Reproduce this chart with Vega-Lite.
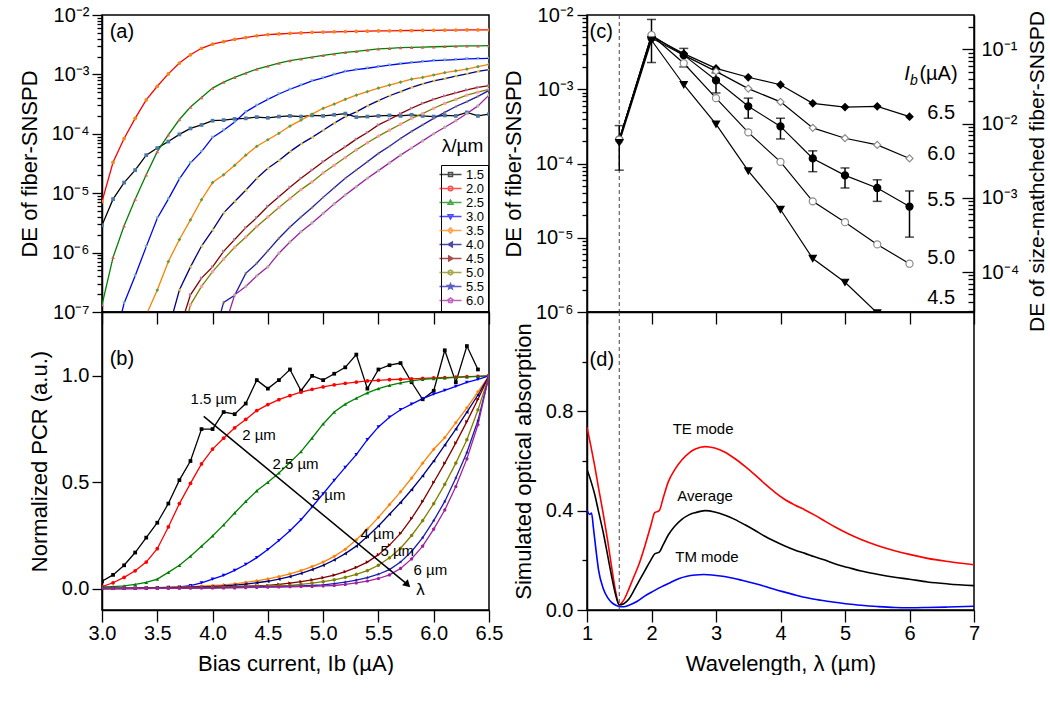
{
"$schema":"https://vega.github.io/schema/vega-lite/v6.json",
"background":"white",
"padding":{"left":17,"top":4,"right":0,"bottom":0},
"config":{
 "font":"Liberation Sans",
 "view":{"stroke":"black","strokeWidth":1.5},
 "axis":{"domainColor":"black","domainWidth":1.5,"tickColor":"black","tickWidth":1.3,"labelColor":"black","labelFont":"Liberation Sans","labelFontSize":20,"titleFont":"Liberation Sans","titleFontSize":22,"titleFontWeight":"normal","titleColor":"black","grid":false,"tickSize":10,"labelOverlap":false,"labelFlush":false},
 "text":{"font":"Liberation Sans","color":"black"}
},
"datasets":{
"iv":[
{"s":"1.5","I":3.0,"de":2.88e-6,"p":0.035},{"s":"1.5","I":3.1,"de":7.94e-6,"p":0.065},{"s":"1.5","I":3.2,"de":1.51e-5,"p":0.11},{"s":"1.5","I":3.3,"de":2.45e-5,"p":0.17},{"s":"1.5","I":3.4,"de":4.37e-5,"p":0.24},{"s":"1.5","I":3.5,"de":5.75e-5,"p":0.31},{"s":"1.5","I":3.6,"de":7.41e-5,"p":0.40},{"s":"1.5","I":3.7,"de":9.77e-5,"p":0.51},{"s":"1.5","I":3.8,"de":1.23e-4,"p":0.60},{"s":"1.5","I":3.9,"de":1.41e-4,"p":0.75},{"s":"1.5","I":4.0,"de":1.66e-4,"p":0.75},{"s":"1.5","I":4.1,"de":1.70e-4,"p":0.83},{"s":"1.5","I":4.2,"de":1.78e-4,"p":0.82},{"s":"1.5","I":4.3,"de":1.82e-4,"p":0.87},{"s":"1.5","I":4.4,"de":1.91e-4,"p":0.98},{"s":"1.5","I":4.5,"de":1.86e-4,"p":0.94},{"s":"1.5","I":4.6,"de":1.95e-4,"p":0.98},{"s":"1.5","I":4.7,"de":2.0e-4,"p":1.03},{"s":"1.5","I":4.8,"de":1.95e-4,"p":0.93},{"s":"1.5","I":4.9,"de":2.04e-4,"p":1.0},{"s":"1.5","I":5.0,"de":2.0e-4,"p":0.98},{"s":"1.5","I":5.1,"de":2.09e-4,"p":1.01},{"s":"1.5","I":5.2,"de":2.19e-4,"p":1.04},{"s":"1.5","I":5.3,"de":1.91e-4,"p":1.10},{"s":"1.5","I":5.4,"de":1.95e-4,"p":0.94},{"s":"1.5","I":5.5,"de":2.0e-4,"p":1.03},{"s":"1.5","I":5.6,"de":2.04e-4,"p":1.05},{"s":"1.5","I":5.7,"de":2.0e-4,"p":1.06},{"s":"1.5","I":5.8,"de":2.09e-4,"p":0.97},{"s":"1.5","I":5.9,"de":2.0e-4,"p":0.89},{"s":"1.5","I":6.0,"de":1.95e-4,"p":0.93},{"s":"1.5","I":6.1,"de":2.04e-4,"p":1.12},{"s":"1.5","I":6.2,"de":2.0e-4,"p":0.97},{"s":"1.5","I":6.3,"de":2.29e-4,"p":1.14},{"s":"1.5","I":6.4,"de":2.0e-4,"p":1.03},{"s":"1.5","I":6.5,"de":2.14e-4},
{"s":"2.0","I":3.0,"de":7.24e-6,"p":0.01},{"s":"2.0","I":3.1,"de":3.31e-5,"p":0.028},{"s":"2.0","I":3.2,"de":8.32e-5,"p":0.053},{"s":"2.0","I":3.3,"de":1.82e-4,"p":0.084},{"s":"2.0","I":3.4,"de":3.72e-4,"p":0.125},{"s":"2.0","I":3.5,"de":6.31e-4,"p":0.188},{"s":"2.0","I":3.6,"de":1.02e-3,"p":0.29},{"s":"2.0","I":3.7,"de":1.55e-3,"p":0.40},{"s":"2.0","I":3.8,"de":2.14e-3,"p":0.495},{"s":"2.0","I":3.9,"de":2.75e-3,"p":0.586},{"s":"2.0","I":4.0,"de":3.24e-3,"p":0.656},{"s":"2.0","I":4.1,"de":3.55e-3,"p":0.707},{"s":"2.0","I":4.2,"de":3.89e-3,"p":0.756},{"s":"2.0","I":4.3,"de":4.17e-3,"p":0.795},{"s":"2.0","I":4.4,"de":4.47e-3,"p":0.837},{"s":"2.0","I":4.5,"de":4.68e-3,"p":0.865},{"s":"2.0","I":4.6,"de":4.79e-3,"p":0.888},{"s":"2.0","I":4.7,"de":4.9e-3,"p":0.907},{"s":"2.0","I":4.8,"de":5.0e-3,"p":0.923},{"s":"2.0","I":4.9,"de":5.1e-3,"p":0.937},{"s":"2.0","I":5.0,"de":5.15e-3,"p":0.948},{"s":"2.0","I":5.1,"de":5.2e-3,"p":0.958},{"s":"2.0","I":5.2,"de":5.25e-3,"p":0.965},{"s":"2.0","I":5.3,"de":5.3e-3,"p":0.971},{"s":"2.0","I":5.4,"de":5.35e-3,"p":0.976},{"s":"2.0","I":5.5,"de":5.4e-3,"p":0.979},{"s":"2.0","I":5.6,"de":5.42e-3,"p":0.982},{"s":"2.0","I":5.7,"de":5.45e-3,"p":0.984},{"s":"2.0","I":5.8,"de":5.48e-3,"p":0.986},{"s":"2.0","I":5.9,"de":5.5e-3,"p":0.988},{"s":"2.0","I":6.0,"de":5.52e-3,"p":0.99},{"s":"2.0","I":6.1,"de":5.55e-3,"p":0.992},{"s":"2.0","I":6.2,"de":5.57e-3,"p":0.994},{"s":"2.0","I":6.3,"de":5.6e-3,"p":0.996},{"s":"2.0","I":6.4,"de":5.6e-3,"p":0.998},{"s":"2.0","I":6.5,"de":5.62e-3,"p":1.0},
{"s":"2.5","I":3.0,"de":1.32e-7,"p":0.008},{"s":"2.5","I":3.1,"de":8.32e-7,"p":0.01},{"s":"2.5","I":3.2,"de":2.82e-6,"p":0.013},{"s":"2.5","I":3.3,"de":7.94e-6,"p":0.02},{"s":"2.5","I":3.4,"de":2.04e-5,"p":0.03},{"s":"2.5","I":3.5,"de":5.01e-5,"p":0.045},{"s":"2.5","I":3.6,"de":9.55e-5,"p":0.077},{"s":"2.5","I":3.7,"de":1.74e-4,"p":0.11},{"s":"2.5","I":3.8,"de":2.82e-4,"p":0.153},{"s":"2.5","I":3.9,"de":4.07e-4,"p":0.2},{"s":"2.5","I":4.0,"de":5.89e-4,"p":0.248},{"s":"2.5","I":4.1,"de":7.41e-4,"p":0.3},{"s":"2.5","I":4.2,"de":8.91e-4,"p":0.356},{"s":"2.5","I":4.3,"de":1.05e-3,"p":0.41},{"s":"2.5","I":4.4,"de":1.23e-3,"p":0.46},{"s":"2.5","I":4.5,"de":1.38e-3,"p":0.5},{"s":"2.5","I":4.6,"de":1.55e-3,"p":0.544},{"s":"2.5","I":4.7,"de":1.70e-3,"p":0.593},{"s":"2.5","I":4.8,"de":1.82e-3,"p":0.644},{"s":"2.5","I":4.9,"de":1.95e-3,"p":0.708},{"s":"2.5","I":5.0,"de":2.09e-3,"p":0.774},{"s":"2.5","I":5.1,"de":2.21e-3,"p":0.83},{"s":"2.5","I":5.2,"de":2.34e-3,"p":0.867},{"s":"2.5","I":5.3,"de":2.45e-3,"p":0.895},{"s":"2.5","I":5.4,"de":2.57e-3,"p":0.92},{"s":"2.5","I":5.5,"de":2.69e-3,"p":0.94},{"s":"2.5","I":5.6,"de":2.75e-3,"p":0.955},{"s":"2.5","I":5.7,"de":2.82e-3,"p":0.967},{"s":"2.5","I":5.8,"de":2.85e-3,"p":0.976},{"s":"2.5","I":5.9,"de":2.88e-3,"p":0.983},{"s":"2.5","I":6.0,"de":2.92e-3,"p":0.987},{"s":"2.5","I":6.1,"de":2.95e-3,"p":0.99},{"s":"2.5","I":6.2,"de":2.99e-3,"p":0.993},{"s":"2.5","I":6.3,"de":3.02e-3,"p":0.995},{"s":"2.5","I":6.4,"de":3.02e-3,"p":0.998},{"s":"2.5","I":6.5,"de":3.05e-3,"p":1.0},
{"s":"3.0","I":3.0,"p":0.002},{"s":"3.0","I":3.1,"de":2.5e-8,"p":0.002},{"s":"3.0","I":3.2,"de":1.41e-7,"p":0.003},{"s":"3.0","I":3.3,"de":4.07e-7,"p":0.003},{"s":"3.0","I":3.4,"de":1.26e-6,"p":0.004},{"s":"3.0","I":3.5,"de":3.8e-6,"p":0.005},{"s":"3.0","I":3.6,"de":7.94e-6,"p":0.006},{"s":"3.0","I":3.7,"de":1.74e-5,"p":0.008},{"s":"3.0","I":3.8,"de":3.24e-5,"p":0.014},{"s":"3.0","I":3.9,"de":5.01e-5,"p":0.028},{"s":"3.0","I":4.0,"de":8.71e-5,"p":0.045},{"s":"3.0","I":4.1,"de":1.15e-4,"p":0.063},{"s":"3.0","I":4.2,"de":1.58e-4,"p":0.086},{"s":"3.0","I":4.3,"de":2.34e-4,"p":0.114},{"s":"3.0","I":4.4,"de":3.02e-4,"p":0.146},{"s":"3.0","I":4.5,"de":3.8e-4,"p":0.184},{"s":"3.0","I":4.6,"de":4.68e-4,"p":0.226},{"s":"3.0","I":4.7,"de":5.62e-4,"p":0.272},{"s":"3.0","I":4.8,"de":6.61e-4,"p":0.324},{"s":"3.0","I":4.9,"de":7.76e-4,"p":0.384},{"s":"3.0","I":5.0,"de":8.71e-4,"p":0.446},{"s":"3.0","I":5.1,"de":1.0e-3,"p":0.509},{"s":"3.0","I":5.2,"de":1.12e-3,"p":0.57},{"s":"3.0","I":5.3,"de":1.2e-3,"p":0.63},{"s":"3.0","I":5.4,"de":1.27e-3,"p":0.7},{"s":"3.0","I":5.5,"de":1.35e-3,"p":0.76},{"s":"3.0","I":5.6,"de":1.43e-3,"p":0.806},{"s":"3.0","I":5.7,"de":1.51e-3,"p":0.841},{"s":"3.0","I":5.8,"de":1.58e-3,"p":0.867},{"s":"3.0","I":5.9,"de":1.64e-3,"p":0.893},{"s":"3.0","I":6.0,"de":1.70e-3,"p":0.914},{"s":"3.0","I":6.1,"de":1.74e-3,"p":0.932},{"s":"3.0","I":6.2,"de":1.78e-3,"p":0.951},{"s":"3.0","I":6.3,"de":1.82e-3,"p":0.969},{"s":"3.0","I":6.4,"de":1.84e-3,"p":0.983},{"s":"3.0","I":6.5,"de":1.86e-3,"p":1.0},
{"s":"3.5","I":3.0,"p":0.002},{"s":"3.5","I":3.1,"p":0.002},{"s":"3.5","I":3.2,"p":0.003},{"s":"3.5","I":3.3,"p":0.003},{"s":"3.5","I":3.4,"de":8.9e-8,"p":0.004},{"s":"3.5","I":3.5,"de":2.34e-7,"p":0.005},{"s":"3.5","I":3.6,"de":7.08e-7,"p":0.006},{"s":"3.5","I":3.7,"de":1.66e-6,"p":0.008},{"s":"3.5","I":3.8,"de":3.55e-6,"p":0.01},{"s":"3.5","I":3.9,"de":7.76e-6,"p":0.012},{"s":"3.5","I":4.0,"de":1.51e-5,"p":0.015},{"s":"3.5","I":4.1,"de":2.04e-5,"p":0.018},{"s":"3.5","I":4.2,"de":2.95e-5,"p":0.023},{"s":"3.5","I":4.3,"de":4.37e-5,"p":0.03},{"s":"3.5","I":4.4,"de":6.17e-5,"p":0.037},{"s":"3.5","I":4.5,"de":7.94e-5,"p":0.046},{"s":"3.5","I":4.6,"de":1.02e-4,"p":0.057},{"s":"3.5","I":4.7,"de":1.35e-4,"p":0.07},{"s":"3.5","I":4.8,"de":1.70e-4,"p":0.085},{"s":"3.5","I":4.9,"de":2.14e-4,"p":0.104},{"s":"3.5","I":5.0,"de":2.69e-4,"p":0.125},{"s":"3.5","I":5.1,"de":3.16e-4,"p":0.152},{"s":"3.5","I":5.2,"de":3.8e-4,"p":0.185},{"s":"3.5","I":5.3,"de":4.47e-4,"p":0.23},{"s":"3.5","I":5.4,"de":5.13e-4,"p":0.28},{"s":"3.5","I":5.5,"de":5.89e-4,"p":0.335},{"s":"3.5","I":5.6,"de":6.61e-4,"p":0.395},{"s":"3.5","I":5.7,"de":7.41e-4,"p":0.455},{"s":"3.5","I":5.8,"de":8.32e-4,"p":0.52},{"s":"3.5","I":5.9,"de":8.91e-4,"p":0.59},{"s":"3.5","I":6.0,"de":9.77e-4,"p":0.655},{"s":"3.5","I":6.1,"de":1.07e-3,"p":0.71},{"s":"3.5","I":6.2,"de":1.15e-3,"p":0.78},{"s":"3.5","I":6.3,"de":1.23e-3,"p":0.85},{"s":"3.5","I":6.4,"de":1.35e-3,"p":0.925},{"s":"3.5","I":6.5,"de":1.48e-3,"p":1.0},
{"s":"4.0","I":3.0,"p":0.001},{"s":"4.0","I":3.1,"p":0.002},{"s":"4.0","I":3.2,"p":0.002},{"s":"4.0","I":3.3,"p":0.003},{"s":"4.0","I":3.4,"p":0.003},{"s":"4.0","I":3.5,"p":0.004},{"s":"4.0","I":3.6,"de":5.0e-8,"p":0.005},{"s":"4.0","I":3.7,"de":2.34e-7,"p":0.006},{"s":"4.0","I":3.8,"de":5.75e-7,"p":0.007},{"s":"4.0","I":3.9,"de":1.29e-6,"p":0.008},{"s":"4.0","I":4.0,"de":2.4e-6,"p":0.01},{"s":"4.0","I":4.1,"de":4.68e-6,"p":0.013},{"s":"4.0","I":4.2,"de":7.24e-6,"p":0.017},{"s":"4.0","I":4.3,"de":1.12e-5,"p":0.022},{"s":"4.0","I":4.4,"de":1.78e-5,"p":0.028},{"s":"4.0","I":4.5,"de":2.63e-5,"p":0.035},{"s":"4.0","I":4.6,"de":3.55e-5,"p":0.045},{"s":"4.0","I":4.7,"de":5.01e-5,"p":0.057},{"s":"4.0","I":4.8,"de":6.76e-5,"p":0.072},{"s":"4.0","I":4.9,"de":8.71e-5,"p":0.09},{"s":"4.0","I":5.0,"de":1.15e-4,"p":0.11},{"s":"4.0","I":5.1,"de":1.51e-4,"p":0.135},{"s":"4.0","I":5.2,"de":1.95e-4,"p":0.165},{"s":"4.0","I":5.3,"de":2.34e-4,"p":0.2},{"s":"4.0","I":5.4,"de":2.95e-4,"p":0.245},{"s":"4.0","I":5.5,"de":3.63e-4,"p":0.295},{"s":"4.0","I":5.6,"de":4.37e-4,"p":0.35},{"s":"4.0","I":5.7,"de":5.13e-4,"p":0.405},{"s":"4.0","I":5.8,"de":6.03e-4,"p":0.465},{"s":"4.0","I":5.9,"de":6.92e-4,"p":0.53},{"s":"4.0","I":6.0,"de":7.76e-4,"p":0.6},{"s":"4.0","I":6.1,"de":8.51e-4,"p":0.675},{"s":"4.0","I":6.2,"de":9.33e-4,"p":0.75},{"s":"4.0","I":6.3,"de":1.02e-3,"p":0.83},{"s":"4.0","I":6.4,"de":1.12e-3,"p":0.91},{"s":"4.0","I":6.5,"de":1.20e-3,"p":1.0},
{"s":"4.5","I":3.0,"p":0.001},{"s":"4.5","I":3.1,"p":0.001},{"s":"4.5","I":3.2,"p":0.002},{"s":"4.5","I":3.3,"p":0.002},{"s":"4.5","I":3.4,"p":0.003},{"s":"4.5","I":3.5,"p":0.003},{"s":"4.5","I":3.6,"p":0.004},{"s":"4.5","I":3.7,"de":5.0e-8,"p":0.005},{"s":"4.5","I":3.8,"de":1.95e-7,"p":0.006},{"s":"4.5","I":3.9,"de":3.72e-7,"p":0.007},{"s":"4.5","I":4.0,"de":5.75e-7,"p":0.008},{"s":"4.5","I":4.1,"de":1.05e-6,"p":0.009},{"s":"4.5","I":4.2,"de":1.66e-6,"p":0.01},{"s":"4.5","I":4.3,"de":2.63e-6,"p":0.012},{"s":"4.5","I":4.4,"de":3.89e-6,"p":0.013},{"s":"4.5","I":4.5,"de":6.03e-6,"p":0.015},{"s":"4.5","I":4.6,"de":8.71e-6,"p":0.02},{"s":"4.5","I":4.7,"de":1.26e-5,"p":0.026},{"s":"4.5","I":4.8,"de":1.78e-5,"p":0.033},{"s":"4.5","I":4.9,"de":2.45e-5,"p":0.042},{"s":"4.5","I":5.0,"de":3.39e-5,"p":0.052},{"s":"4.5","I":5.1,"de":4.57e-5,"p":0.064},{"s":"4.5","I":5.2,"de":6.03e-5,"p":0.08},{"s":"4.5","I":5.3,"de":8.13e-5,"p":0.1},{"s":"4.5","I":5.4,"de":1.05e-4,"p":0.125},{"s":"4.5","I":5.5,"de":1.41e-4,"p":0.16},{"s":"4.5","I":5.6,"de":1.74e-4,"p":0.205},{"s":"4.5","I":5.7,"de":2.19e-4,"p":0.26},{"s":"4.5","I":5.8,"de":2.69e-4,"p":0.33},{"s":"4.5","I":5.9,"de":3.24e-4,"p":0.41},{"s":"4.5","I":6.0,"de":3.8e-4,"p":0.5},{"s":"4.5","I":6.1,"de":4.37e-4,"p":0.59},{"s":"4.5","I":6.2,"de":4.9e-4,"p":0.685},{"s":"4.5","I":6.3,"de":5.5e-4,"p":0.785},{"s":"4.5","I":6.4,"de":6.03e-4,"p":0.89},{"s":"4.5","I":6.5,"de":6.46e-4,"p":1.0},
{"s":"5.0","I":3.0,"p":0.001},{"s":"5.0","I":3.1,"p":0.001},{"s":"5.0","I":3.2,"p":0.001},{"s":"5.0","I":3.3,"p":0.002},{"s":"5.0","I":3.4,"p":0.002},{"s":"5.0","I":3.5,"p":0.002},{"s":"5.0","I":3.6,"p":0.003},{"s":"5.0","I":3.7,"de":2.5e-8,"p":0.003},{"s":"5.0","I":3.8,"de":1.32e-7,"p":0.004},{"s":"5.0","I":3.9,"de":2.69e-7,"p":0.005},{"s":"5.0","I":4.0,"de":4.79e-7,"p":0.006},{"s":"5.0","I":4.1,"de":7.76e-7,"p":0.007},{"s":"5.0","I":4.2,"de":1.23e-6,"p":0.008},{"s":"5.0","I":4.3,"de":1.82e-6,"p":0.009},{"s":"5.0","I":4.4,"de":2.75e-6,"p":0.011},{"s":"5.0","I":4.5,"de":3.98e-6,"p":0.013},{"s":"5.0","I":4.6,"de":5.75e-6,"p":0.014},{"s":"5.0","I":4.7,"de":8.13e-6,"p":0.015},{"s":"5.0","I":4.8,"de":1.15e-5,"p":0.02},{"s":"5.0","I":4.9,"de":1.55e-5,"p":0.026},{"s":"5.0","I":5.0,"de":2.19e-5,"p":0.033},{"s":"5.0","I":5.1,"de":2.95e-5,"p":0.042},{"s":"5.0","I":5.2,"de":3.98e-5,"p":0.053},{"s":"5.0","I":5.3,"de":5.37e-5,"p":0.067},{"s":"5.0","I":5.4,"de":7.08e-5,"p":0.085},{"s":"5.0","I":5.5,"de":9.12e-5,"p":0.11},{"s":"5.0","I":5.6,"de":1.15e-4,"p":0.145},{"s":"5.0","I":5.7,"de":1.45e-4,"p":0.19},{"s":"5.0","I":5.8,"de":1.82e-4,"p":0.25},{"s":"5.0","I":5.9,"de":2.19e-4,"p":0.32},{"s":"5.0","I":6.0,"de":2.69e-4,"p":0.4},{"s":"5.0","I":6.1,"de":3.24e-4,"p":0.49},{"s":"5.0","I":6.2,"de":3.8e-4,"p":0.59},{"s":"5.0","I":6.3,"de":4.47e-4,"p":0.7},{"s":"5.0","I":6.4,"de":5.01e-4,"p":0.84},{"s":"5.0","I":6.5,"de":5.62e-4,"p":1.0},
{"s":"5.5","I":3.0,"p":0.001},{"s":"5.5","I":3.1,"p":0.001},{"s":"5.5","I":3.2,"p":0.001},{"s":"5.5","I":3.3,"p":0.001},{"s":"5.5","I":3.4,"p":0.002},{"s":"5.5","I":3.5,"p":0.002},{"s":"5.5","I":3.6,"p":0.002},{"s":"5.5","I":3.7,"p":0.003},{"s":"5.5","I":3.8,"p":0.003},{"s":"5.5","I":3.9,"p":0.004},{"s":"5.5","I":4.0,"de":3.2e-8,"p":0.004},{"s":"5.5","I":4.1,"de":1.45e-7,"p":0.005},{"s":"5.5","I":4.2,"de":1.91e-7,"p":0.006},{"s":"5.5","I":4.3,"de":4.47e-7,"p":0.007},{"s":"5.5","I":4.4,"de":6.61e-7,"p":0.008},{"s":"5.5","I":4.5,"de":1.07e-6,"p":0.009},{"s":"5.5","I":4.6,"de":1.74e-6,"p":0.01},{"s":"5.5","I":4.7,"de":2.69e-6,"p":0.011},{"s":"5.5","I":4.8,"de":3.98e-6,"p":0.013},{"s":"5.5","I":4.9,"de":5.75e-6,"p":0.015},{"s":"5.5","I":5.0,"de":8.51e-6,"p":0.018},{"s":"5.5","I":5.1,"de":1.23e-5,"p":0.024},{"s":"5.5","I":5.2,"de":1.78e-5,"p":0.031},{"s":"5.5","I":5.3,"de":2.45e-5,"p":0.04},{"s":"5.5","I":5.4,"de":3.39e-5,"p":0.052},{"s":"5.5","I":5.5,"de":4.68e-5,"p":0.068},{"s":"5.5","I":5.6,"de":6.17e-5,"p":0.09},{"s":"5.5","I":5.7,"de":8.32e-5,"p":0.125},{"s":"5.5","I":5.8,"de":1.10e-4,"p":0.175},{"s":"5.5","I":5.9,"de":1.41e-4,"p":0.24},{"s":"5.5","I":6.0,"de":1.82e-4,"p":0.32},{"s":"5.5","I":6.1,"de":2.29e-4,"p":0.41},{"s":"5.5","I":6.2,"de":2.88e-4,"p":0.52},{"s":"5.5","I":6.3,"de":3.47e-4,"p":0.64},{"s":"5.5","I":6.4,"de":4.27e-4,"p":0.79},{"s":"5.5","I":6.5,"de":5.37e-4,"p":1.0},
{"s":"6.0","I":3.0,"p":0.001},{"s":"6.0","I":3.1,"p":0.001},{"s":"6.0","I":3.2,"p":0.001},{"s":"6.0","I":3.3,"p":0.001},{"s":"6.0","I":3.4,"p":0.001},{"s":"6.0","I":3.5,"p":0.002},{"s":"6.0","I":3.6,"p":0.002},{"s":"6.0","I":3.7,"p":0.002},{"s":"6.0","I":3.8,"p":0.003},{"s":"6.0","I":3.9,"p":0.003},{"s":"6.0","I":4.0,"p":0.003},{"s":"6.0","I":4.1,"de":5.0e-8,"p":0.004},{"s":"6.0","I":4.2,"de":1.95e-7,"p":0.004},{"s":"6.0","I":4.3,"de":2.69e-7,"p":0.005},{"s":"6.0","I":4.4,"de":4.07e-7,"p":0.006},{"s":"6.0","I":4.5,"de":5.75e-7,"p":0.007},{"s":"6.0","I":4.6,"de":9.77e-7,"p":0.008},{"s":"6.0","I":4.7,"de":1.51e-6,"p":0.009},{"s":"6.0","I":4.8,"de":2.24e-6,"p":0.01},{"s":"6.0","I":4.9,"de":3.16e-6,"p":0.011},{"s":"6.0","I":5.0,"de":4.57e-6,"p":0.013},{"s":"6.0","I":5.1,"de":6.61e-6,"p":0.015},{"s":"6.0","I":5.2,"de":9.33e-6,"p":0.02},{"s":"6.0","I":5.3,"de":1.29e-5,"p":0.027},{"s":"6.0","I":5.4,"de":1.78e-5,"p":0.036},{"s":"6.0","I":5.5,"de":2.4e-5,"p":0.048},{"s":"6.0","I":5.6,"de":3.24e-5,"p":0.065},{"s":"6.0","I":5.7,"de":4.37e-5,"p":0.095},{"s":"6.0","I":5.8,"de":5.75e-5,"p":0.14},{"s":"6.0","I":5.9,"de":7.59e-5,"p":0.2},{"s":"6.0","I":6.0,"de":1.0e-4,"p":0.28},{"s":"6.0","I":6.1,"de":1.29e-4,"p":0.37},{"s":"6.0","I":6.2,"de":1.66e-4,"p":0.48},{"s":"6.0","I":6.3,"de":2.19e-4,"p":0.61},{"s":"6.0","I":6.4,"de":2.95e-4,"p":0.77},{"s":"6.0","I":6.5,"de":4.47e-4,"p":1.0}
],
"dew":[
{"ib":"6.5","w":1.5,"v":2.09e-4},{"ib":"6.5","w":2.0,"v":5.13e-3},{"ib":"6.5","w":2.5,"v":3.02e-3},{"ib":"6.5","w":3.0,"v":1.91e-3},{"ib":"6.5","w":3.5,"v":1.45e-3},{"ib":"6.5","w":4.0,"v":1.15e-3},{"ib":"6.5","w":4.5,"v":6.46e-4},{"ib":"6.5","w":5.0,"v":5.75e-4},{"ib":"6.5","w":5.5,"v":5.89e-4},{"ib":"6.5","w":6.0,"v":4.27e-4},
{"ib":"6.0","w":1.5,"v":2.09e-4},{"ib":"6.0","w":2.0,"v":5.37e-3},{"ib":"6.0","w":2.5,"v":2.88e-3},{"ib":"6.0","w":3.0,"v":1.74e-3},{"ib":"6.0","w":3.5,"v":1.02e-3},{"ib":"6.0","w":4.0,"v":6.76e-4},{"ib":"6.0","w":4.5,"v":3.02e-4},{"ib":"6.0","w":5.0,"v":2.19e-4},{"ib":"6.0","w":5.5,"v":1.78e-4},{"ib":"6.0","w":6.0,"v":1.17e-4},
{"ib":"5.5","w":1.5,"v":2.09e-4,"lo":8.13e-5,"hi":3.24e-4},{"ib":"5.5","w":2.0,"v":4.9e-3,"lo":2.29e-3,"hi":8.71e-3},{"ib":"5.5","w":2.5,"v":2.88e-3,"lo":2.0e-3,"hi":3.55e-3},{"ib":"5.5","w":3.0,"v":1.32e-3,"lo":8.91e-4,"hi":1.66e-3},{"ib":"5.5","w":3.5,"v":5.89e-4,"lo":4.07e-4,"hi":7.59e-4},{"ib":"5.5","w":4.0,"v":3.16e-4,"lo":2.14e-4,"hi":4.07e-4},{"ib":"5.5","w":4.5,"v":1.17e-4,"lo":7.76e-5,"hi":1.48e-4},{"ib":"5.5","w":5.0,"v":6.92e-5,"lo":4.68e-5,"hi":8.71e-5},{"ib":"5.5","w":5.5,"v":4.68e-5,"lo":3.09e-5,"hi":6.03e-5},{"ib":"5.5","w":6.0,"v":2.63e-5,"lo":1.02e-5,"hi":4.27e-5},
{"ib":"5.0","w":1.5,"v":2.09e-4},{"ib":"5.0","w":2.0,"v":5.37e-3},{"ib":"5.0","w":2.5,"v":2.24e-3},{"ib":"5.0","w":3.0,"v":7.59e-4},{"ib":"5.0","w":3.5,"v":2.63e-4},{"ib":"5.0","w":4.0,"v":1.05e-4},{"ib":"5.0","w":4.5,"v":3.09e-5},{"ib":"5.0","w":5.0,"v":1.62e-5},{"ib":"5.0","w":5.5,"v":8.13e-6},{"ib":"5.0","w":6.0,"v":4.47e-6},
{"ib":"4.5","w":1.5,"v":1.91e-4},{"ib":"4.5","w":2.0,"v":4.57e-3},{"ib":"4.5","w":2.5,"v":1.15e-3},{"ib":"4.5","w":3.0,"v":3.39e-4},{"ib":"4.5","w":3.5,"v":7.94e-5},{"ib":"4.5","w":4.0,"v":2.4e-5},{"ib":"4.5","w":4.5,"v":5.25e-6},{"ib":"4.5","w":5.0,"v":2.51e-6},{"ib":"4.5","w":5.5,"v":9.7e-7}
],
"abs":[
{"m":"TE","w":1.0,"v":0.736},{"m":"TE","w":1.06,"v":0.66},{"m":"TE","w":1.12,"v":0.579},{"m":"TE","w":1.18,"v":0.49},{"m":"TE","w":1.25,"v":0.39},{"m":"TE","w":1.32,"v":0.28},{"m":"TE","w":1.38,"v":0.176},{"m":"TE","w":1.44,"v":0.08},{"m":"TE","w":1.5,"v":0.022},{"m":"TE","w":1.57,"v":0.04},{"m":"TE","w":1.65,"v":0.085},{"m":"TE","w":1.72,"v":0.13},{"m":"TE","w":1.8,"v":0.18},{"m":"TE","w":1.9,"v":0.26},{"m":"TE","w":1.99,"v":0.34},{"m":"TE","w":2.05,"v":0.392},{"m":"TE","w":2.12,"v":0.40},{"m":"TE","w":2.18,"v":0.45},{"m":"TE","w":2.26,"v":0.516},{"m":"TE","w":2.36,"v":0.565},{"m":"TE","w":2.47,"v":0.604},{"m":"TE","w":2.58,"v":0.632},{"m":"TE","w":2.68,"v":0.648},{"m":"TE","w":2.83,"v":0.658},{"m":"TE","w":2.98,"v":0.652},{"m":"TE","w":3.14,"v":0.635},{"m":"TE","w":3.29,"v":0.61},{"m":"TE","w":3.45,"v":0.578},{"m":"TE","w":3.6,"v":0.545},{"m":"TE","w":3.75,"v":0.51},{"m":"TE","w":3.91,"v":0.475},{"m":"TE","w":4.05,"v":0.448},{"m":"TE","w":4.22,"v":0.423},{"m":"TE","w":4.38,"v":0.403},{"m":"TE","w":4.53,"v":0.382},{"m":"TE","w":4.7,"v":0.356},{"m":"TE","w":4.84,"v":0.335},{"m":"TE","w":5.05,"v":0.307},{"m":"TE","w":5.25,"v":0.284},{"m":"TE","w":5.5,"v":0.26},{"m":"TE","w":5.77,"v":0.239},{"m":"TE","w":6.0,"v":0.224},{"m":"TE","w":6.28,"v":0.208},{"m":"TE","w":6.6,"v":0.195},{"m":"TE","w":7.0,"v":0.182},
{"m":"Average","w":1.0,"v":0.566},{"m":"Average","w":1.06,"v":0.52},{"m":"Average","w":1.12,"v":0.465},{"m":"Average","w":1.18,"v":0.395},{"m":"Average","w":1.25,"v":0.314},{"m":"Average","w":1.32,"v":0.22},{"m":"Average","w":1.38,"v":0.138},{"m":"Average","w":1.44,"v":0.065},{"m":"Average","w":1.5,"v":0.02},{"m":"Average","w":1.57,"v":0.025},{"m":"Average","w":1.65,"v":0.044},{"m":"Average","w":1.72,"v":0.075},{"m":"Average","w":1.8,"v":0.113},{"m":"Average","w":1.9,"v":0.16},{"m":"Average","w":1.99,"v":0.201},{"m":"Average","w":2.05,"v":0.226},{"m":"Average","w":2.12,"v":0.233},{"m":"Average","w":2.18,"v":0.262},{"m":"Average","w":2.26,"v":0.302},{"m":"Average","w":2.36,"v":0.337},{"m":"Average","w":2.47,"v":0.365},{"m":"Average","w":2.58,"v":0.383},{"m":"Average","w":2.68,"v":0.392},{"m":"Average","w":2.83,"v":0.40},{"m":"Average","w":2.98,"v":0.395},{"m":"Average","w":3.14,"v":0.382},{"m":"Average","w":3.29,"v":0.365},{"m":"Average","w":3.45,"v":0.343},{"m":"Average","w":3.6,"v":0.321},{"m":"Average","w":3.75,"v":0.298},{"m":"Average","w":3.91,"v":0.277},{"m":"Average","w":4.05,"v":0.26},{"m":"Average","w":4.22,"v":0.242},{"m":"Average","w":4.38,"v":0.228},{"m":"Average","w":4.53,"v":0.214},{"m":"Average","w":4.7,"v":0.2},{"m":"Average","w":4.84,"v":0.186},{"m":"Average","w":5.05,"v":0.171},{"m":"Average","w":5.25,"v":0.157},{"m":"Average","w":5.5,"v":0.144},{"m":"Average","w":5.77,"v":0.132},{"m":"Average","w":6.0,"v":0.124},{"m":"Average","w":6.28,"v":0.113},{"m":"Average","w":6.6,"v":0.105},{"m":"Average","w":7.0,"v":0.098},
{"m":"TM","w":1.0,"v":0.403},{"m":"TM","w":1.04,"v":0.385},{"m":"TM","w":1.07,"v":0.39},{"m":"TM","w":1.1,"v":0.33},{"m":"TM","w":1.14,"v":0.24},{"m":"TM","w":1.18,"v":0.16},{"m":"TM","w":1.25,"v":0.088},{"m":"TM","w":1.32,"v":0.05},{"m":"TM","w":1.38,"v":0.031},{"m":"TM","w":1.44,"v":0.02},{"m":"TM","w":1.5,"v":0.014},{"m":"TM","w":1.57,"v":0.013},{"m":"TM","w":1.65,"v":0.019},{"m":"TM","w":1.78,"v":0.035},{"m":"TM","w":1.9,"v":0.057},{"m":"TM","w":2.03,"v":0.076},{"m":"TM","w":2.16,"v":0.094},{"m":"TM","w":2.29,"v":0.11},{"m":"TM","w":2.42,"v":0.126},{"m":"TM","w":2.55,"v":0.136},{"m":"TM","w":2.68,"v":0.141},{"m":"TM","w":2.81,"v":0.143},{"m":"TM","w":2.94,"v":0.141},{"m":"TM","w":3.07,"v":0.137},{"m":"TM","w":3.19,"v":0.132},{"m":"TM","w":3.4,"v":0.12},{"m":"TM","w":3.6,"v":0.107},{"m":"TM","w":3.8,"v":0.092},{"m":"TM","w":4.02,"v":0.075},{"m":"TM","w":4.22,"v":0.061},{"m":"TM","w":4.43,"v":0.048},{"m":"TM","w":4.63,"v":0.039},{"m":"TM","w":4.84,"v":0.031},{"m":"TM","w":5.05,"v":0.024},{"m":"TM","w":5.25,"v":0.019},{"m":"TM","w":5.5,"v":0.014},{"m":"TM","w":5.77,"v":0.01},{"m":"TM","w":6.0,"v":0.009},{"m":"TM","w":6.28,"v":0.01},{"m":"TM","w":6.6,"v":0.012},{"m":"TM","w":7.0,"v":0.015}
]
},
"columns":2,
"spacing":{"row":0,"column":98},
"bounds":"flush",
"resolve":{"scale":{"color":"independent","shape":"independent","fill":"independent","stroke":"independent"}},
"concat":[
{
 "width":387,"height":297,
 "data":{"name":"iv"},
 "layer":[
  {"mark":{"type":"line","strokeWidth":1.3,"clip":true},
   "encoding":{
    "x":{"field":"I","type":"quantitative","scale":{"domain":[3,6.5]},"axis":{"values":[3,3.5,4,4.5,5,5.5,6,6.5],"labels":false,"title":null,"tickSize":12}},
    "y":{"field":"de","type":"quantitative","scale":{"type":"log","domain":[1e-7,1e-2]},"axis":{"values":[1e-7,2e-7,3e-7,4e-7,5e-7,6e-7,7e-7,8e-7,9e-7,1e-6,2e-6,3e-6,4e-6,5e-6,6e-6,7e-6,8e-6,9e-6,1e-5,2e-5,3e-5,4e-5,5e-5,6e-5,7e-5,8e-5,9e-5,1e-4,2e-4,3e-4,4e-4,5e-4,6e-4,7e-4,8e-4,9e-4,1e-3,2e-3,3e-3,4e-3,5e-3,6e-3,7e-3,8e-3,9e-3,1e-2],"labelExpr":"abs(log(datum.value)/LN10 - round(log(datum.value)/LN10)) < 0.001 ? '10⁻' + ['⁰','¹','²','³','⁴','⁵','⁶','⁷','⁸','⁹'][round(-log(datum.value)/LN10)] : ''","tickSize":{"condition":{"test":"abs(log(datum.value)/LN10 - round(log(datum.value)/LN10)) < 0.001","value":10},"value":5},"title":"DE of fiber-SNSPD","labelPadding":3,"titlePadding":10}},
    "color":{"field":"s","type":"nominal","scale":{"domain":["1.5","2.0","2.5","3.0","3.5","4.0","4.5","5.0","5.5","6.0"],"range":["#000000","#FF0000","#008000","#0000FF","#FF8000","#000080","#800000","#808000","#1C1CA8","#A020A0"]},"legend":null}}},
  {"mark":{"type":"point","filled":true,"size":14,"opacity":1,"clip":true},
   "encoding":{
    "x":{"field":"I","type":"quantitative"},
    "y":{"field":"de","type":"quantitative"},
    "color":{"field":"s","type":"nominal","legend":null},
    "shape":{"field":"s","type":"nominal","scale":{"domain":["1.5","2.0","2.5","3.0","3.5","4.0","4.5","5.0","5.5","6.0"],"range":["square","circle","triangle-up","triangle-down","diamond","triangle-left","triangle-right","M0,-1L0.87,-0.5V0.5L0,1L-0.87,0.5V-0.5Z","M0,-1L0.29,-0.31L0.95,-0.31L0.42,0.12L0.62,0.81L0,0.4L-0.62,0.81L-0.42,0.12L-0.95,-0.31L-0.29,-0.31Z","M0,-1L0.95,-0.31L0.59,0.81H-0.59L-0.95,-0.31Z"]},"legend":null}}},
  {"data":{"values":[{"t":"(a)","x":3.18,"y":0.0052}]},
   "mark":{"type":"text","fontSize":20,"align":"center","baseline":"middle"},
   "encoding":{"x":{"field":"x","type":"quantitative"},"y":{"field":"y","type":"quantitative"},"text":{"field":"t"}}},
  {"data":{"values":[{"t":"λ/µm","x":6.26,"y":6.3e-5}]},
   "mark":{"type":"text","fontSize":19,"align":"center","baseline":"middle"},
   "encoding":{"x":{"field":"x","type":"quantitative"},"y":{"field":"y","type":"quantitative"},"text":{"field":"t"}}},
  {"data":{"values":[]},"mark":{"type":"point","filled":false,"strokeWidth":1.5},
   "encoding":{
    "color":{"field":"s","type":"nominal","scale":{"domain":["1.5","2.0","2.5","3.0","3.5","4.0","4.5","5.0","5.5","6.0"],"range":["#000000","#FF0000","#008000","#0000FF","#FF8000","#000080","#800000","#808000","#1C1CA8","#A020A0"]},
      "legend":{"title":null,"orient":"bottom-right","offset":1,"padding":3,"strokeColor":"black","fillColor":"white","symbolSize":64,"symbolStrokeWidth":1.5,"labelFontSize":13,"labelOffset":9,"rowPadding":0,"labelFont":"Liberation Sans","labelColor":"black"}},
    "shape":{"field":"s","type":"nominal","scale":{"domain":["1.5","2.0","2.5","3.0","3.5","4.0","4.5","5.0","5.5","6.0"],"range":[
      "M-2.75,0H2.75M-0.5,-0.5H0.5V0.5H-0.5Z",
      "M-2.75,0H2.75M0.55,0A0.55,0.55,0,1,1,-0.55,0A0.55,0.55,0,1,1,0.55,0Z",
      "M-2.75,0H2.75M0,-0.6L0.6,0.45H-0.6Z",
      "M-2.75,0H2.75M0,0.6L0.6,-0.45H-0.6Z",
      "M-2.75,0H2.75M0,-0.65L0.65,0L0,0.65L-0.65,0Z",
      "M-2.75,0H2.75M-0.6,0L0.45,-0.6V0.6Z",
      "M-2.75,0H2.75M0.6,0L-0.45,-0.6V0.6Z",
      "M-2.75,0H2.75M0,-0.6L0.52,-0.3V0.3L0,0.6L-0.52,0.3V-0.3Z",
      "M-2.75,0H2.75M0,-0.7L0.2,-0.22L0.67,-0.22L0.29,0.08L0.43,0.57L0,0.28L-0.43,0.57L-0.29,0.08L-0.67,-0.22L-0.2,-0.22Z",
      "M-2.75,0H2.75M0,-0.65L0.62,-0.2L0.38,0.53H-0.38L-0.62,-0.2Z"]},
      "legend":{"title":null,"orient":"bottom-right","offset":1,"padding":3,"strokeColor":"black","fillColor":"white","symbolSize":64,"symbolStrokeWidth":1.5,"labelFontSize":13,"labelOffset":9,"rowPadding":0,"labelFont":"Liberation Sans","labelColor":"black"}}}}
 ],
 "resolve":{"scale":{"color":"independent","shape":"independent"}}
},
{
 "width":387,"height":297,
 "data":{"name":"dew"},
 "layer":[
  {"mark":{"type":"line","color":"black","strokeWidth":1.2,"clip":true},
   "encoding":{
    "x":{"field":"w","type":"quantitative","scale":{"domain":[1,7]},"axis":{"values":[1,1.5,2,2.5,3,3.5,4,4.5,5,5.5,6,6.5,7],"labels":false,"title":null,"tickSize":{"condition":{"test":"datum.value % 1 == 0","value":12},"value":6}}},
    "y":{"field":"v","type":"quantitative","scale":{"type":"log","domain":[1e-6,1e-2]},"axis":{"values":[1e-6,2e-6,3e-6,4e-6,5e-6,6e-6,7e-6,8e-6,9e-6,1e-5,2e-5,3e-5,4e-5,5e-5,6e-5,7e-5,8e-5,9e-5,1e-4,2e-4,3e-4,4e-4,5e-4,6e-4,7e-4,8e-4,9e-4,1e-3,2e-3,3e-3,4e-3,5e-3,6e-3,7e-3,8e-3,9e-3,1e-2],"labelExpr":"abs(log(datum.value)/LN10 - round(log(datum.value)/LN10)) < 0.001 ? '10⁻' + ['⁰','¹','²','³','⁴','⁵','⁶','⁷','⁸','⁹'][round(-log(datum.value)/LN10)] : ''","tickSize":{"condition":{"test":"abs(log(datum.value)/LN10 - round(log(datum.value)/LN10)) < 0.001","value":10},"value":5},"title":"DE of fiber-SNSPD","labelPadding":4,"titlePadding":10}},
    "detail":{"field":"ib","type":"nominal"}}},
  {"data":{"values":[{"x":1.5}]},"mark":{"type":"rule","strokeDash":[4,3],"color":"#444","strokeWidth":1},
   "encoding":{"x":{"field":"x","type":"quantitative"}}},
  {"mark":{"type":"rule","color":"black","strokeWidth":1.5},
   "encoding":{"x":{"field":"w","type":"quantitative"},"y":{"field":"lo","type":"quantitative","scale":{"type":"log","domain":[1e-6,1e-2]},"axis":null},"y2":{"field":"hi"}}},
  {"mark":{"type":"tick","orient":"horizontal","size":9,"thickness":1.5,"color":"black"},
   "encoding":{"x":{"field":"w","type":"quantitative"},"y":{"field":"lo","type":"quantitative","scale":{"type":"log","domain":[1e-6,1e-2]},"axis":null}}},
  {"mark":{"type":"tick","orient":"horizontal","size":9,"thickness":1.5,"color":"black"},
   "encoding":{"x":{"field":"w","type":"quantitative"},"y":{"field":"hi","type":"quantitative","scale":{"type":"log","domain":[1e-6,1e-2]},"axis":null}}},
  {"mark":{"type":"point","filled":true,"size":50,"strokeWidth":1.2,"opacity":1,"clip":true},
   "encoding":{
    "x":{"field":"w","type":"quantitative"},
    "y":{"field":"v","type":"quantitative","scale":{"type":"log","domain":[1e-6,1e-2]},"axis":null},
    "shape":{"field":"ib","type":"nominal","scale":{"domain":["6.5","6.0","5.5","5.0","4.5"],"range":["diamond","diamond","circle","circle","triangle-down"]},"legend":null},
    "fill":{"field":"ib","type":"nominal","scale":{"domain":["6.5","6.0","5.5","5.0","4.5"],"range":["black","white","black","white","black"]},"legend":null},
    "stroke":{"field":"ib","type":"nominal","scale":{"domain":["6.5","6.0","5.5","5.0","4.5"],"range":["black","#8c8c8c","black","#8c8c8c","black"]},"legend":null}}},
  {"data":{"values":[{"t":"6.5","x":6.49,"y":4.8e-4},{"t":"6.0","x":6.49,"y":1.34e-4},{"t":"5.5","x":6.49,"y":3.2e-5},{"t":"5.0","x":6.49,"y":5.4e-6},{"t":"4.5","x":6.49,"y":1.55e-6}]},
   "mark":{"type":"text","fontSize":20,"align":"center","baseline":"middle"},
   "encoding":{"x":{"field":"x","type":"quantitative"},"y":{"field":"y","type":"quantitative","scale":{"type":"log","domain":[1e-6,1e-2]},"axis":null},"text":{"field":"t"}}},
  {"data":{"values":[{"t":"I","x":5.96,"y":1.6e-3}]},
   "mark":{"type":"text","fontSize":20,"fontStyle":"italic","align":"center","baseline":"middle"},
   "encoding":{"x":{"field":"x","type":"quantitative"},"y":{"field":"y","type":"quantitative","scale":{"type":"log","domain":[1e-6,1e-2]},"axis":null},"text":{"field":"t"}}},
  {"data":{"values":[{"t":"b","x":6.07,"y":1.3e-3}]},
   "mark":{"type":"text","fontSize":14,"fontStyle":"italic","align":"center","baseline":"middle"},
   "encoding":{"x":{"field":"x","type":"quantitative"},"y":{"field":"y","type":"quantitative","scale":{"type":"log","domain":[1e-6,1e-2]},"axis":null},"text":{"field":"t"}}},
  {"data":{"values":[{"t":"(µA)","x":6.45,"y":1.6e-3}]},
   "mark":{"type":"text","fontSize":20,"align":"center","baseline":"middle"},
   "encoding":{"x":{"field":"x","type":"quantitative"},"y":{"field":"y","type":"quantitative","scale":{"type":"log","domain":[1e-6,1e-2]},"axis":null},"text":{"field":"t"}}},
  {"data":{"values":[{"t":"(c)","x":1.22,"y":5.9e-3}]},
   "mark":{"type":"text","fontSize":20,"align":"center","baseline":"middle"},
   "encoding":{"x":{"field":"x","type":"quantitative"},"y":{"field":"y","type":"quantitative","scale":{"type":"log","domain":[1e-6,1e-2]},"axis":null},"text":{"field":"t"}}},
  {"data":{"values":[{"r":0.01}]},"mark":{"type":"point","opacity":0},
   "encoding":{"y":{"field":"r","type":"quantitative","scale":{"type":"log","domain":[2.9e-5,0.29]},"axis":{"orient":"right","values":[3e-5,4e-5,5e-5,6e-5,7e-5,8e-5,9e-5,1e-4,2e-4,3e-4,4e-4,5e-4,6e-4,7e-4,8e-4,9e-4,1e-3,2e-3,3e-3,4e-3,5e-3,6e-3,7e-3,8e-3,9e-3,1e-2,2e-2,3e-2,4e-2,5e-2,6e-2,7e-2,8e-2,9e-2,0.1,0.2],"labelExpr":"abs(log(datum.value)/LN10 - round(log(datum.value)/LN10)) < 0.001 ? '10⁻' + ['⁰','¹','²','³','⁴','⁵','⁶','⁷','⁸','⁹'][round(-log(datum.value)/LN10)] : ''","tickSize":{"condition":{"test":"abs(log(datum.value)/LN10 - round(log(datum.value)/LN10)) < 0.001","value":-12},"value":-6},"labelPadding":19,"title":"DE of size-mathched fiber-SNSPD","titleFontSize":21,"titleAngle":270,"titleBaseline":"top","titlePadding":8,"titleY":156}}}}
 ],
 "resolve":{"scale":{"y":"independent"},"axis":{"y":"independent"}}
},
{
 "width":387,"height":298,
 "data":{"name":"iv"},
 "layer":[
  {"mark":{"type":"line","strokeWidth":1.3,"clip":true},
   "encoding":{
    "x":{"field":"I","type":"quantitative","scale":{"domain":[3,6.5]},"axis":{"values":[3,3.5,4,4.5,5,5.5,6,6.5],"format":".1f","title":"Bias current, Ib (µA)","tickSize":12,"labelPadding":1,"titlePadding":10}},
    "y":{"field":"p","type":"quantitative","scale":{"domain":[-0.042,1.205]},"axis":{"values":[0,0.5,1],"format":".1f","title":"Normalized PCR (a.u.)","tickSize":10,"labelPadding":3,"titlePadding":10}},
    "color":{"field":"s","type":"nominal","scale":{"domain":["1.5","2.0","2.5","3.0","3.5","4.0","4.5","5.0","5.5","6.0"],"range":["#000000","#FF0000","#008000","#0000FF","#FF8000","#000080","#800000","#808000","#1C1CA8","#A020A0"]},"legend":null}}},
  {"mark":{"type":"point","filled":true,"size":14,"opacity":1,"clip":true},
   "encoding":{
    "x":{"field":"I","type":"quantitative"},
    "y":{"field":"p","type":"quantitative"},
    "color":{"field":"s","type":"nominal","legend":null},
    "shape":{"field":"s","type":"nominal","scale":{"domain":["1.5","2.0","2.5","3.0","3.5","4.0","4.5","5.0","5.5","6.0"],"range":["square","circle","triangle-up","triangle-down","diamond","triangle-left","triangle-right","M0,-1L0.87,-0.5V0.5L0,1L-0.87,0.5V-0.5Z","M0,-1L0.29,-0.31L0.95,-0.31L0.42,0.12L0.62,0.81L0,0.4L-0.62,0.81L-0.42,0.12L-0.95,-0.31L-0.29,-0.31Z","M0,-1L0.95,-0.31L0.59,0.81H-0.59L-0.95,-0.31Z"]},"legend":null}}},
  {"data":{"values":[{"x1":3.92,"y1":0.81,"x2":5.764,"y2":0.019}]},
   "mark":{"type":"rule","color":"black","strokeWidth":1.5},
   "encoding":{"x":{"field":"x1","type":"quantitative"},"y":{"field":"y1","type":"quantitative"},"x2":{"field":"x2"},"y2":{"field":"y2"}}},
  {"data":{"values":[{"x":5.764,"y":0.019}]},
   "mark":{"type":"point","shape":"triangle-right","angle":43,"size":70,"filled":true,"color":"black","opacity":1},
   "encoding":{"x":{"field":"x","type":"quantitative"},"y":{"field":"y","type":"quantitative"}}},
  {"data":{"values":[{"t":"1.5 µm","x":4.01,"y":0.89},{"t":"2 µm","x":4.42,"y":0.72},{"t":"2.5 µm","x":4.75,"y":0.586},{"t":"3 µm","x":5.05,"y":0.44},{"t":"4 µm","x":5.49,"y":0.255},{"t":"5 µm","x":5.67,"y":0.176},{"t":"6 µm","x":5.97,"y":0.088}]},
   "mark":{"type":"text","fontSize":15,"align":"center","baseline":"middle"},
   "encoding":{"x":{"field":"x","type":"quantitative"},"y":{"field":"y","type":"quantitative"},"text":{"field":"t"}}},
  {"data":{"values":[{"t":"λ","x":5.88,"y":-0.008}]},
   "mark":{"type":"text","fontSize":17,"align":"center","baseline":"middle"},
   "encoding":{"x":{"field":"x","type":"quantitative"},"y":{"field":"y","type":"quantitative"},"text":{"field":"t"}}},
  {"data":{"values":[{"t":"(b)","x":3.18,"y":1.08}]},
   "mark":{"type":"text","fontSize":20,"align":"center","baseline":"middle"},
   "encoding":{"x":{"field":"x","type":"quantitative"},"y":{"field":"y","type":"quantitative"},"text":{"field":"t"}}}
 ]
},
{
 "width":387,"height":298,
 "data":{"name":"abs"},
 "layer":[
  {"mark":{"type":"line","strokeWidth":1.6,"interpolate":"monotone","clip":true},
   "encoding":{
    "x":{"field":"w","type":"quantitative","scale":{"domain":[1,7]},"axis":{"values":[1,1.5,2,2.5,3,3.5,4,4.5,5,5.5,6,6.5,7],"labelExpr":"datum.value % 1 == 0 ? format(datum.value,'d') : ''","tickSize":{"condition":{"test":"datum.value % 1 == 0","value":12},"value":6},"title":"Wavelength, λ (µm)","labelPadding":1,"titlePadding":10}},
    "y":{"field":"v","type":"quantitative","scale":{"domain":[0,1.125]},"axis":{"values":[0,0.2,0.4,0.6,0.8,1.0],"labelExpr":"round(datum.value*10) % 4 == 0 ? format(datum.value,'.1f') : ''","tickSize":{"condition":{"test":"round(datum.value*10) % 4 == 0","value":10},"value":5},"title":"Simulated optical absorption","labelPadding":4,"titlePadding":10}},
    "color":{"field":"m","type":"nominal","scale":{"domain":["TE","Average","TM"],"range":["#FF0000","#000000","#0000FF"]},"legend":null}}},
  {"data":{"values":[{"x":1.5}]},"mark":{"type":"rule","strokeDash":[4,3],"color":"#444","strokeWidth":1},
   "encoding":{"x":{"field":"x","type":"quantitative"}}},
  {"data":{"values":[{"t":"TE mode","x":2.8,"y":0.728},{"t":"Average","x":2.83,"y":0.46},{"t":"TM mode","x":2.86,"y":0.215}]},
   "mark":{"type":"text","fontSize":15,"align":"center","baseline":"middle"},
   "encoding":{"x":{"field":"x","type":"quantitative"},"y":{"field":"y","type":"quantitative"},"text":{"field":"t"}}},
  {"data":{"values":[{"t":"(d)","x":1.23,"y":1.008}]},
   "mark":{"type":"text","fontSize":20,"align":"center","baseline":"middle"},
   "encoding":{"x":{"field":"x","type":"quantitative"},"y":{"field":"y","type":"quantitative"},"text":{"field":"t"}}}
 ]
}
]
}
